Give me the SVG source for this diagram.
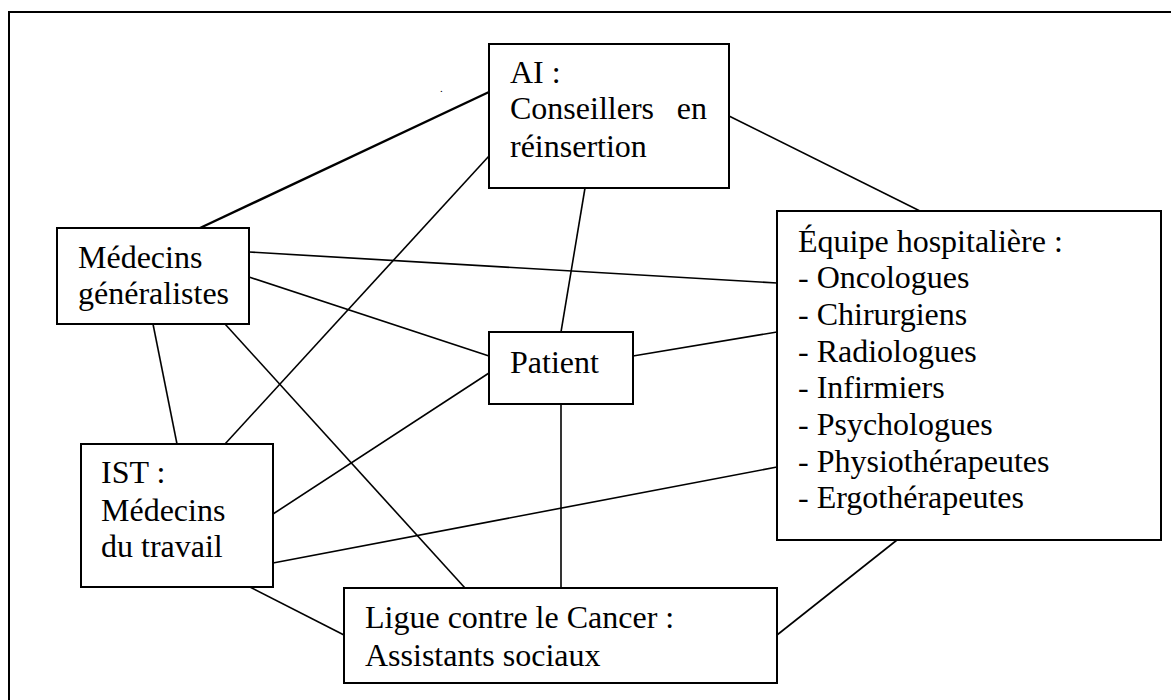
<svg xmlns="http://www.w3.org/2000/svg" width="1171" height="700" viewBox="0 0 1171 700">
<style>
.box{fill:#fff;stroke:#000;stroke-width:2}
.t{font-family:'Liberation Serif','Tinos','DejaVu Serif',serif;font-size:32px;fill:#000}
.c{stroke:#000;stroke-width:1.6;fill:none}
</style>
<rect x="0" y="0" width="1171" height="700" fill="#fff"/>
<path d="M9,700 V12 H1171" fill="none" stroke="#000" stroke-width="2"/>
<text class="t" x="440" y="92" style="font-size:11px">.</text>
<g id="connectors">
<line class="c" x1="200" y1="228" x2="489" y2="92" style="stroke-width:2.4"/>
<line class="c" x1="729" y1="116" x2="920" y2="211"/>
<line class="c" x1="585" y1="188" x2="561" y2="332"/>
<line class="c" x1="489" y1="156" x2="225" y2="444"/>
<line class="c" x1="249" y1="252" x2="777" y2="283"/>
<line class="c" x1="249" y1="277" x2="489" y2="356"/>
<line class="c" x1="225" y1="324" x2="465" y2="588"/>
<line class="c" x1="153" y1="324" x2="177" y2="444"/>
<line class="c" x1="633" y1="356" x2="777" y2="332"/>
<line class="c" x1="489" y1="373" x2="273" y2="514"/>
<line class="c" x1="561" y1="404" x2="561" y2="588"/>
<line class="c" x1="273" y1="563" x2="777" y2="467"/>
<line class="c" x1="250" y1="587" x2="344" y2="635"/>
<line class="c" x1="777" y1="635" x2="897" y2="540"/>
</g>
<g id="node-ai">
<rect class="box" x="489" y="44" width="240" height="144"/>
<text class="t" x="510" y="83">AI :</text>
<text class="t" x="510" y="119">Conseillers</text>
<text class="t" x="707" y="119" text-anchor="end">en</text>
<text class="t" x="510" y="157">réinsertion</text>
</g>
<g id="node-medecins">
<rect class="box" x="57" y="228" width="192" height="96"/>
<text class="t" x="78" y="268">Médecins</text>
<text class="t" x="78" y="304">généralistes</text>
</g>
<g id="node-patient">
<rect class="box" x="489" y="332" width="144" height="72"/>
<text class="t" x="510" y="373">Patient</text>
</g>
<g id="node-equipe">
<rect class="box" x="777" y="211" width="384" height="329"/>
<text class="t" x="798" y="252">Équipe hospitalière :</text>
<text class="t" x="798" y="288">- Oncologues</text>
<text class="t" x="798" y="325">- Chirurgiens</text>
<text class="t" x="798" y="362">- Radiologues</text>
<text class="t" x="798" y="398">- Infirmiers</text>
<text class="t" x="798" y="435">- Psychologues</text>
<text class="t" x="798" y="472">- Physiothérapeutes</text>
<text class="t" x="798" y="508">- Ergothérapeutes</text>
</g>
<g id="node-ist">
<rect class="box" x="81" y="444" width="192" height="143"/>
<text class="t" x="101" y="483">IST :</text>
<text class="t" x="101" y="521">Médecins</text>
<text class="t" x="101" y="557">du travail</text>
</g>
<g id="node-ligue">
<rect class="box" x="344" y="588" width="433" height="95"/>
<text class="t" x="365" y="628">Ligue contre le Cancer :</text>
<text class="t" x="365" y="666">Assistants sociaux</text>
</g>
</svg>
